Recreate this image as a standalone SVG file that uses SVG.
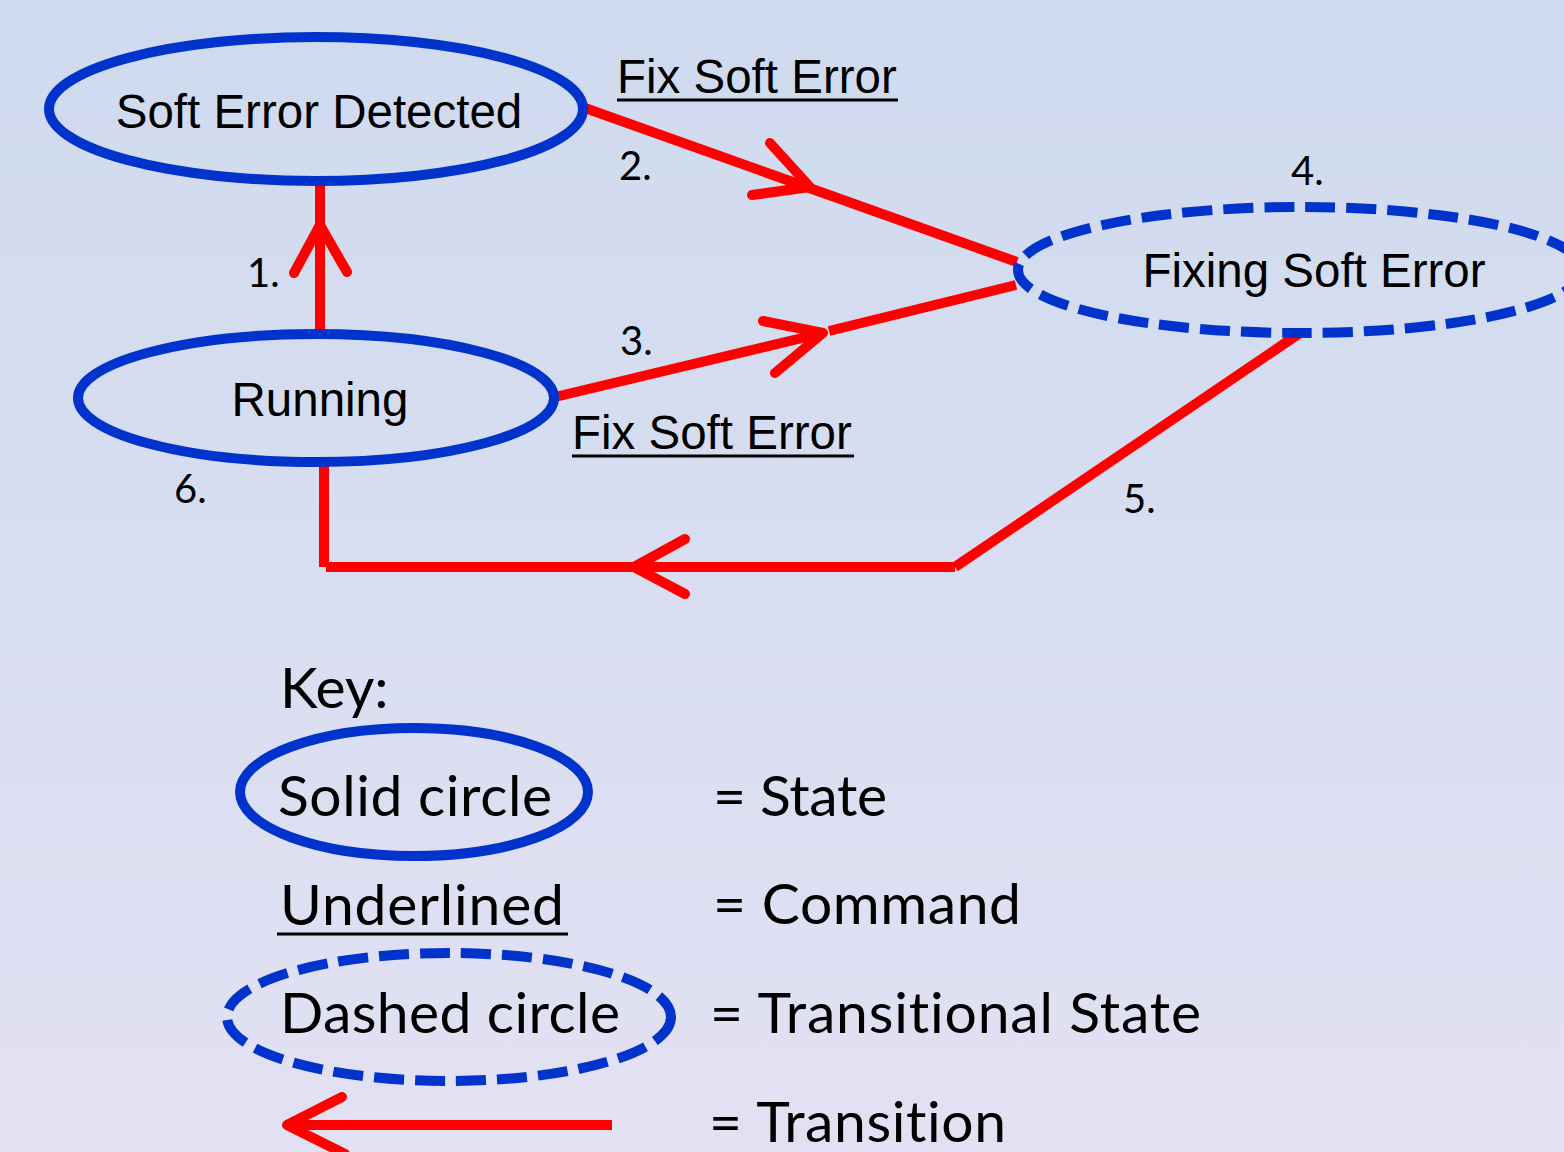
<svg xmlns="http://www.w3.org/2000/svg" width="1564" height="1152" viewBox="0 0 1564 1152">
  <defs>
    <linearGradient id="bg" x1="0" y1="0" x2="0" y2="1">
      <stop offset="0" stop-color="#cfdaee"/>
      <stop offset="1" stop-color="#e2e1f3"/>
    </linearGradient>
  </defs>
  <style>
    .state { fill: none; stroke: #0033cc; stroke-width: 10; }
    .trans { fill: none; stroke: #0033cc; stroke-width: 10; stroke-dasharray: 30 11; }
    .label { font-family: "Liberation Sans", Arial, sans-serif; font-size: 47.5px; fill: #000; }
    .num { font-family: Lato, "Open Sans", sans-serif; font-size: 40px; fill: #000; }
    .key { font-family: Lato, "Open Sans", sans-serif; font-size: 57px; fill: #000; font-variant-ligatures: none; }
    .edge { fill: none; stroke: #ff0000; stroke-width: 10; stroke-linecap: butt; }
    .head { fill: none; stroke: #ff0000; stroke-width: 10; stroke-linecap: round; stroke-linejoin: round; }
    .uline { stroke: #000; stroke-width: 3; }
  </style>

  <rect x="0" y="0" width="1564" height="1152" fill="url(#bg)"/>

  <!-- transitions -->
  <g id="connectors">
    <!-- 1: Running -> Soft Error Detected -->
    <line class="edge" x1="320" y1="333" x2="320" y2="185"/>
    <polyline class="head" points="294,273 320,225 347,272"/>
    <!-- 2: Soft Error Detected -> Fixing Soft Error -->
    <line class="edge" x1="585" y1="108" x2="1017" y2="262"/>
    <polyline class="head" points="770,143 810,187 752,195"/>
    <!-- 3: Running -> Fixing Soft Error -->
    <line class="edge" x1="555" y1="397" x2="823" y2="333"/>
    <line class="edge" x1="829" y1="331" x2="1016" y2="285"/>
    <polyline class="head" points="763,321 823,333 775,373"/>
    <!-- 5 / 6: Fixing Soft Error -> Running -->
    <line class="edge" x1="1300" y1="333" x2="955" y2="567"/>
    <line class="edge" x1="955" y1="567" x2="326" y2="567"/>
    <line class="edge" x1="324" y1="463" x2="324" y2="567"/>
    <polyline class="head" points="685,539 634,567 685,594"/>
  </g>

  <g id="node-soft-error-detected">
    <ellipse class="state" cx="316" cy="109" rx="267" ry="72"/>
    <text class="label" x="319" y="128" text-anchor="middle">Soft Error Detected</text>
  </g>

  <g id="node-running">
    <ellipse class="state" cx="316" cy="398" rx="238" ry="64"/>
    <text class="label" x="320" y="416" text-anchor="middle">Running</text>
  </g>

  <g id="node-fixing-soft-error">
    <ellipse class="trans" cx="1300" cy="270" rx="282" ry="63"/>
    <text class="label" x="1314" y="287" text-anchor="middle">Fixing Soft Error</text>
  </g>

  <!-- commands and step numbers -->
  <g id="edge-labels">
    <text class="label" x="617" y="93">Fix Soft Error</text>
    <line class="uline" x1="617" y1="100" x2="898" y2="100"/>
    <text class="label" x="572" y="449">Fix Soft Error</text>
    <line class="uline" x1="572" y1="456" x2="854" y2="456"/>
    <text class="num" x="247" y="287">1.</text>
    <text class="num" x="619" y="180">2.</text>
    <text class="num" x="620" y="355">3.</text>
    <text class="num" x="1291" y="185">4.</text>
    <text class="num" x="1123" y="513">5.</text>
    <text class="num" x="174" y="503">6.</text>
  </g>

  <!-- legend -->
  <g id="key">
    <text class="key" x="280" y="708">Key:</text>
    <ellipse class="state" cx="414" cy="792" rx="174" ry="64"/>
    <text class="key" x="278" y="816" textLength="274">Solid circle</text>
    <text class="key" x="280" y="925" textLength="284">Underlined</text>
    <line class="uline" x1="277" y1="934" x2="568" y2="934" stroke-width="4"/>
    <ellipse class="trans" cx="449" cy="1017" rx="222" ry="64"/>
    <text class="key" x="280" y="1033" textLength="340">Dashed circle</text>
    <line class="edge" x1="290" y1="1125" x2="612" y2="1125"/>
    <polyline class="head" points="342,1097 287,1125 345,1154"/>
    <text class="key" x="713" y="816" textLength="174">= State</text>
    <text class="key" x="713" y="924" textLength="308">= Command</text>
    <text class="key" x="710" y="1033" textLength="491">= Transitional State</text>
    <text class="key" x="709" y="1142" textLength="297">= Transition</text>
  </g>
</svg>
